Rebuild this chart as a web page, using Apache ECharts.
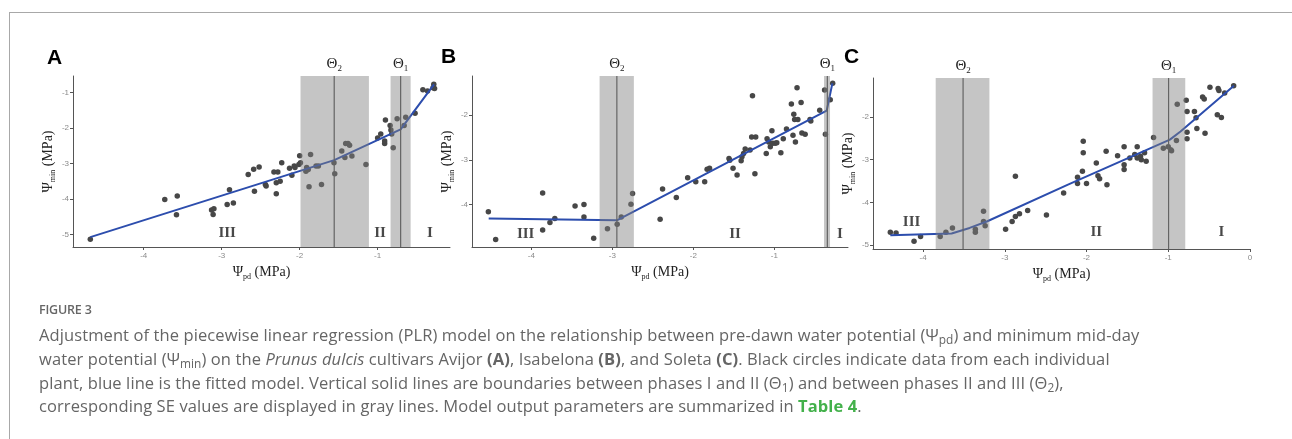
<!DOCTYPE html>
<html>
<head>
<meta charset="utf-8">
<script src="https://cdn.jsdelivr.net/npm/echarts@6/dist/echarts.min.js"></script>
<style>
  html, body { margin:0; padding:0; background:#fff; width:1292px; height:439px; overflow:hidden; }
  #frame { position:absolute; left:9px; top:12px; right:0; bottom:0; border-top:1px solid #a8a8a8; border-left:1px solid #a8a8a8; }
  #chart { position:absolute; left:0; top:0; width:1292px; height:439px; }
  #cap { position:absolute; left:39px; top:299px; font-family:"Open Sans", Lato, sans-serif; color:#656565; white-space:nowrap; }
  #cap .fig { font-size:12.5px; font-weight:600; line-height:22px; height:22px; color:#666; letter-spacing:-0.2px; }
  #cap .txt { font-size:16.5px; line-height:23.8px; margin-top:2px; letter-spacing:0.1px; }
  #cap sub { font-size:0.72em; vertical-align:-0.25em; line-height:0; }
  #cap b { font-weight:700; }
  #cap .g { color:#43b14b; }
</style>
</head>
<body>
<div id="frame"></div>
<div id="chart"></div>
<div id="cap">
  <div class="fig">FIGURE 3</div>
  <div class="txt">Adjustment of the piecewise linear regression (PLR) model on the relationship between pre-dawn water potential (Ψ<sub>pd</sub>) and minimum mid-day<br>water potential (Ψ<sub>min</sub>) on the <i>Prunus dulcis</i> cultivars Avijor <b>(A)</b>, Isabelona <b>(B)</b>, and Soleta <b>(C)</b>. Black circles indicate data from each individual<br>plant, blue line is the fitted model. Vertical solid lines are boundaries between phases I and II (Θ<sub>1</sub>) and between phases II and III (Θ<sub>2</sub>),<br>corresponding SE values are displayed in gray lines. Model output parameters are summarized in <b class="g">Table 4</b>.</div>
</div>
<script>
// ---------- Panel A (Avijor) ----------
const psiPdA  = [-4.685,-3.73,-3.57,-3.58,-3.13,-3.11,-3.10,-2.93,-2.90,-2.85,-2.66,-2.59,-2.58,-2.52,-2.44,-2.43,-2.33,-2.30,-2.30,-2.28,-2.25,-2.23,-2.13,-2.10,-2.07,-2.06,-2.01,-2.00,-1.99,-1.92,-1.91,-1.89,-1.88,-1.86,-1.79,-1.76,-1.72,-1.56,-1.55,-1.46,-1.42,-1.41,-1.38,-1.36,-1.33,-1.15,-1.00,-0.96,-0.91,-0.91,-0.90,-0.84,-0.83,-0.82,-0.80,-0.75,-0.66,-0.64,-0.52,-0.42,-0.36,-0.29,-0.28,-0.27];
const psiMinA = [-5.13,-4.01,-3.91,-4.44,-4.31,-4.43,-4.27,-4.15,-3.74,-4.11,-3.31,-3.16,-3.78,-3.10,-3.59,-3.63,-3.24,-3.54,-3.85,-3.24,-3.50,-2.98,-3.13,-3.33,-3.07,-3.11,-3.03,-2.78,-2.98,-3.22,-3.11,-3.17,-3.65,-2.75,-3.07,-3.07,-3.59,-2.98,-3.29,-2.65,-2.83,-2.44,-2.44,-2.49,-2.79,-3.03,-2.28,-2.17,-2.44,-2.37,-1.78,-1.93,-2.06,-2.17,-2.56,-1.74,-1.93,-1.70,-1.59,-0.93,-0.96,-0.87,-0.77,-0.89];
const fitXA = [-4.685,-1.557,-0.705,-0.277];
const fitYA = [-5.07,-2.906,-2.04,-0.775];
const thetaA   = [-0.705,-1.557];      // Θ1, Θ2
const thetaLoA = [-0.834,-1.989];
const thetaHiA = [-0.577,-1.112];
const xTicksA = [-4,-3,-2,-1];
const yTicksA = [-1,-2,-3,-4,-5];

// ---------- Panel B (Isabelona) ----------
const psiPdB  = [-4.53,-4.44,-3.86,-3.86,-3.77,-3.71,-3.46,-3.35,-3.35,-3.23,-3.06,-2.94,-2.89,-2.77,-2.75,-2.41,-2.38,-2.21,-2.07,-1.97,-1.86,-1.83,-1.80,-1.56,-1.55,-1.51,-1.46,-1.41,-1.40,-1.38,-1.36,-1.30,-1.28,-1.27,-1.24,-1.23,-1.10,-1.09,-1.07,-1.05,-1.03,-1.02,-0.99,-0.97,-0.92,-0.89,-0.85,-0.79,-0.77,-0.76,-0.75,-0.74,-0.72,-0.71,-0.67,-0.66,-0.62,-0.56,-0.55,-0.44,-0.38,-0.37,-0.31,-0.28];
const psiMinB = [-4.16,-4.78,-3.74,-4.57,-4.40,-4.31,-4.03,-4.00,-4.28,-4.75,-4.54,-4.44,-4.28,-3.99,-3.75,-4.33,-3.65,-3.84,-3.40,-3.49,-3.49,-3.21,-3.19,-2.97,-3.01,-3.19,-3.34,-3.02,-2.93,-2.86,-2.76,-2.78,-2.49,-1.57,-3.31,-2.49,-2.86,-2.53,-2.60,-2.71,-2.35,-2.63,-2.63,-2.62,-2.84,-2.53,-2.31,-1.75,-2.45,-1.98,-2.10,-2.60,-1.39,-2.10,-1.72,-2.40,-2.43,-2.10,-2.13,-1.89,-1.44,-2.43,-1.66,-1.29];
const fitXB = [-4.526,-2.944,-0.354,-0.284];
const fitYB = [-4.313,-4.351,-1.903,-1.291];
const thetaB   = [-0.346,-2.944];
const thetaLoB = [-0.387,-3.157];
const thetaHiB = [-0.313,-2.734];
const xTicksB = [-4,-3,-2,-1];
const yTicksB = [-2,-3,-4];

// ---------- Panel C (Soleta) ----------
const psiPdC  = [-4.40,-4.33,-4.11,-4.03,-3.79,-3.72,-3.64,-3.36,-3.36,-3.26,-3.26,-3.24,-2.99,-2.91,-2.87,-2.87,-2.82,-2.72,-2.49,-2.28,-2.11,-2.11,-2.05,-2.04,-2.04,-2.00,-1.88,-1.86,-1.84,-1.76,-1.75,-1.62,-1.54,-1.54,-1.54,-1.47,-1.41,-1.38,-1.38,-1.34,-1.33,-1.29,-1.27,-1.18,-1.06,-1.00,-0.97,-0.96,-0.90,-0.89,-0.78,-0.77,-0.77,-0.77,-0.68,-0.66,-0.65,-0.58,-0.56,-0.55,-0.49,-0.40,-0.39,-0.38,-0.35,-0.31,-0.20];
const psiMinC = [-4.70,-4.72,-4.91,-4.80,-4.80,-4.70,-4.60,-4.70,-4.63,-4.21,-4.45,-4.55,-4.63,-4.45,-3.39,-4.33,-4.27,-4.19,-4.30,-3.78,-3.41,-3.56,-3.27,-2.57,-2.84,-3.56,-3.08,-3.38,-3.45,-2.80,-3.59,-2.91,-2.70,-3.12,-3.23,-2.96,-2.88,-2.70,-2.96,-2.92,-3.00,-2.84,-3.04,-2.48,-2.73,-2.70,-2.77,-2.79,-2.55,-1.70,-1.61,-1.87,-2.36,-2.51,-1.87,-2.02,-2.27,-1.53,-1.58,-2.38,-1.30,-1.95,-1.33,-1.38,-2.01,-1.44,-1.27];
const fitXC = [-4.40,-3.65,-3.43,-3.22,-2.22,-0.98,-0.85,-0.197];
const fitYC = [-4.77,-4.73,-4.60,-4.45,-3.58,-2.53,-2.34,-1.27];
const thetaC   = [-0.996,-3.51];
const thetaLoC = [-1.192,-3.845];
const thetaHiC = [-0.792,-3.188];
const xTicksC = [-4,-3,-2,-1,0];
const yTicksC = [-2,-3,-4,-5];

// phase annotations (data coordinates)
const phaseNames = ['III','II','I'];
const phaseXA = [-2.93,-0.97,-0.33], phaseYA = [-4.97,-4.97,-4.97];
const phaseXB = [-4.07,-1.485,-0.19], phaseYB = [-4.65,-4.65,-4.65];
const phaseXC = [-4.14,-1.88,-0.35],  phaseYC = [-4.47,-4.70,-4.70];

const panels = [
  { letter:'A', px:psiPdA, py:psiMinA, fx:fitXA, fy:fitYA, th:thetaA, lo:thetaLoA, hi:thetaHiA, xt:xTicksA, yt:yTicksA, phx:phaseXA, phy:phaseYA,
    grid:{left:73, top:76, width:377, height:171}, xr:[-4.907,-0.072], yr:[-5.347,-0.54], lp:[47,48] },
  { letter:'B', px:psiPdB, py:psiMinB, fx:fitXB, fy:fitYB, th:thetaB, lo:thetaLoB, hi:thetaHiB, xt:xTicksB, yt:yTicksB, phx:phaseXB, phy:phaseYB,
    grid:{left:472, top:76, width:376, height:171}, xr:[-4.732,-0.091], yr:[-4.948,-1.127], lp:[441,47] },
  { letter:'C', px:psiPdC, py:psiMinC, fx:fitXC, fy:fitYC, th:thetaC, lo:thetaLoC, hi:thetaHiC, xt:xTicksC, yt:yTicksC, phx:phaseXC, phy:phaseYC,
    grid:{left:873, top:78, width:377, height:171}, xr:[-4.612,0], yr:[-5.094,-1.086], lp:[844,47] }
];

const serif = '"Liberation Serif", "DejaVu Serif", serif';
const nameRich = {
  a:{ fontFamily:serif, fontSize:14, color:'#222', lineHeight:18 },
  s:{ fontFamily:serif, fontSize:8, color:'#222', lineHeight:10, verticalAlign:'bottom' }
};
const tickLabel = { color:'#8a8a8a', fontSize:8, fontFamily:'"Liberation Sans", Arial, sans-serif' };

const option = { animation:false, backgroundColor:'transparent', grid:[], xAxis:[], yAxis:[], series:[], graphic:[] };

panels.forEach((p, i) => {
  option.grid.push(Object.assign({ containLabel:false }, p.grid));
  option.xAxis.push({
    gridIndex:i, type:'value', min:p.xr[0], max:p.xr[1],
    axisLine:{ show:true, onZero:false, lineStyle:{ color:'#555', width:1 } },
    axisTick:{ show:true, customValues:p.xt, length:3, lineStyle:{ color:'#555' } },
    axisLabel:{ show:true, customValues:p.xt, margin:5, ...tickLabel, formatter:v => String(v) },
    splitLine:{ show:false },
    name:'{a|Ψ}{s|pd}{a| (MPa)}', nameLocation:'middle', nameGap:16,
    nameTextStyle:{ rich:nameRich }
  });
  option.yAxis.push({
    gridIndex:i, type:'value', min:p.yr[0], max:p.yr[1],
    axisLine:{ show:true, onZero:false, lineStyle:{ color:'#555', width:1 } },
    axisTick:{ show:true, customValues:p.yt, length:3, lineStyle:{ color:'#555' } },
    axisLabel:{ show:true, customValues:p.yt, margin:4, ...tickLabel, formatter:v => String(v) },
    splitLine:{ show:false },
    name:'{a|Ψ}{s|min}{a| (MPa)}', nameLocation:'middle', nameGap:16, nameRotate:90,
    nameTextStyle:{ rich:nameRich }
  });
  // data points
  option.series.push({
    type:'scatter', xAxisIndex:i, yAxisIndex:i, z:2,
    data:p.px.map((x, k) => [x, p.py[k]]),
    symbolSize:5.5, itemStyle:{ color:'#474747', opacity:1 }, silent:true
  });
  // fitted PLR model
  option.series.push({
    type:'line', xAxisIndex:i, yAxisIndex:i, z:3,
    data:p.fx.map((x, k) => [x, p.fy[k]]),
    showSymbol:false, symbol:'none', lineStyle:{ color:'#2c4dad', width:2 }, silent:true
  });
  // breakpoints with SE bands
  option.series.push({
    type:'custom', xAxisIndex:i, yAxisIndex:i, z:4, clip:false, silent:true,
    encode:{ x:[0,1,2] },
    data:p.th.map((t, k) => [t, p.lo[k], p.hi[k], k + 1]),
    renderItem:(params, api) => {
      const cs = params.coordSys;
      const xc = api.coord([api.value(0), p.yr[0]])[0];
      const xl = api.coord([api.value(1), p.yr[0]])[0];
      const xh = api.coord([api.value(2), p.yr[0]])[0];
      const idx = api.value(3);
      return { type:'group', children:[
        { type:'rect', shape:{ x:xl, y:cs.y, width:xh - xl, height:cs.height }, style:{ fill:'rgba(128,128,128,0.46)' } },
        { type:'line', shape:{ x1:xc, y1:cs.y, x2:xc, y2:cs.y + cs.height }, style:{ stroke:'#646464', lineWidth:1.2 } },
        { type:'text', x:xc, y:cs.y - 3, style:{
            text:'{t|Θ}{s|' + idx + '}', align:'center', verticalAlign:'bottom',
            rich:{ t:{ fontFamily:serif, fontSize:15, fill:'#222', lineHeight:18 },
                   s:{ fontFamily:serif, fontSize:9, fill:'#222', lineHeight:10, verticalAlign:'bottom' } } } }
      ]};
    }
  });
  // phase labels
  option.series.push({
    type:'scatter', xAxisIndex:i, yAxisIndex:i, z:6, symbolSize:0, silent:true,
    data:p.phx.map((x, k) => ({ value:[x, p.phy[k]], name:phaseNames[k] })),
    label:{ show:true, position:'inside', formatter:'{b}', fontFamily:serif, fontWeight:'bold', fontSize:15, color:'#1a1a1a' }
  });
  option.graphic.push({ type:'text', left:p.lp[0], top:p.lp[1], style:{ text:p.letter, font:'bold 21px "Liberation Sans", Arial, sans-serif', fill:'#000' } });
});

const chart = echarts.init(document.getElementById('chart'), null, { renderer:'canvas' });
chart.setOption(option);
</script>
</body>
</html>
